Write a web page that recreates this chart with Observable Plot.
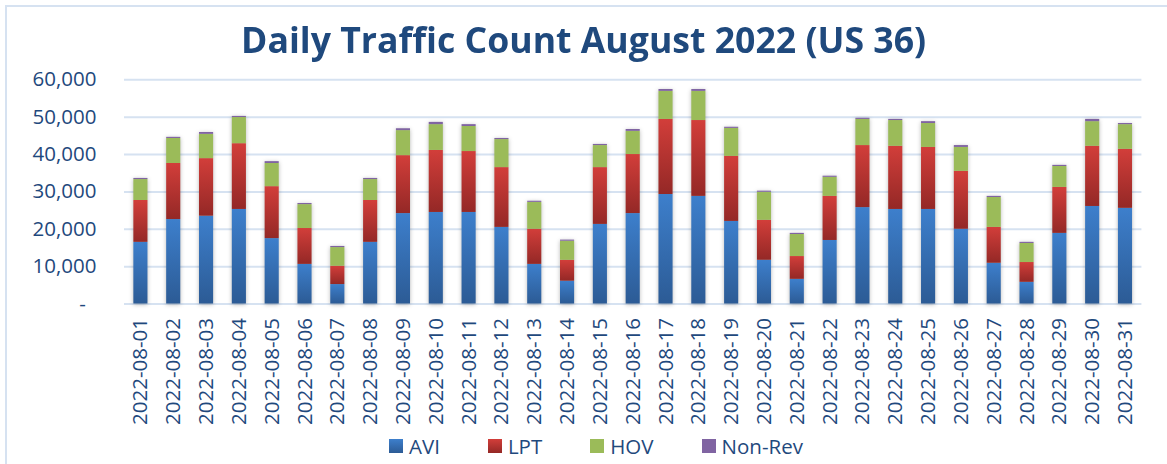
<!DOCTYPE html>
<html>
<head>
<meta charset="utf-8">
<script src="https://cdn.jsdelivr.net/npm/d3@7"></script>
<script src="https://cdn.jsdelivr.net/npm/@observablehq/plot@0.6"></script>
<style>
  html, body { margin: 0; padding: 0; background: #fff; }
  #frame { position: relative; width: 1167px; height: 464px; overflow: hidden; background: #fff;
           font-family: "Open Sans", sans-serif; color: #1F497D; }
  #border { position: absolute; left: 5px; top: 5px; width: 1200px; height: 500px;
            border-top: 2px solid #D6E2F1; border-left: 2px solid #D6E2F1; box-sizing: border-box; }
  #title { position: absolute; left: 0; width: 1167px; top: 22px; text-align: center;
           font-weight: 700; font-size: 35px; line-height: 1; white-space: nowrap; }
  #title span { display: inline-block; transform-origin: center; }
  #chart { position: absolute; left: 0; top: 0; }
  #legend { position: absolute; top: 436px; left: 389px; display: flex; align-items: center;
            gap: 48px; font-size: 20.5px; line-height: 1; white-space: nowrap; }
  #legend .item { display: flex; align-items: center; gap: 6px; }
  #legend .sw { width: 14px; height: 14px; display: inline-block; }
  #chart g[aria-label="bar"] { filter: drop-shadow(0px 1px 2px rgba(0,0,0,0.28)); }
</style>
</head>
<body>
<svg width="0" height="0" style="position:absolute">
  <defs>
    <linearGradient id="gAVI" x1="0" y1="0" x2="0" y2="1">
      <stop offset="0" stop-color="#3D7FCC"/>
      <stop offset="1" stop-color="#2C5B95"/>
    </linearGradient>
    <linearGradient id="gLPT" x1="0" y1="0" x2="0" y2="1">
      <stop offset="0" stop-color="#D23E3A"/>
      <stop offset="1" stop-color="#942826"/>
    </linearGradient>
  </defs>
</svg>
<div id="frame">
  <div id="border"></div>
  <div id="title"><span>Daily Traffic Count August 2022 (US 36)</span></div>
  <div id="chart"></div>
  <div id="legend"></div>
</div>
<script>
const dates = ["2022-08-01","2022-08-02","2022-08-03","2022-08-04","2022-08-05","2022-08-06","2022-08-07","2022-08-08","2022-08-09","2022-08-10","2022-08-11","2022-08-12","2022-08-13","2022-08-14","2022-08-15","2022-08-16","2022-08-17","2022-08-18","2022-08-19","2022-08-20","2022-08-21","2022-08-22","2022-08-23","2022-08-24","2022-08-25","2022-08-26","2022-08-27","2022-08-28","2022-08-29","2022-08-30","2022-08-31"];
const AVI    = [16500,22600,23500,25300,17500,10600,5200,16500,24200,24500,24500,20500,10600,6100,21300,24200,29300,28800,22100,11700,6600,17000,25800,25300,25300,20000,10900,5800,18900,26100,25600];
const LPT    = [11200,15000,15400,17600,13900,9600,4900,11200,15500,16600,16300,16000,9400,5600,15200,15800,20100,20300,17400,10700,6100,11800,16600,16900,16600,15500,9600,5300,12300,16100,15800];
const HOV    = [5600,6700,6500,7000,6200,6400,5000,5600,6700,6900,6700,7500,7200,5100,5900,6200,7500,7800,7500,7500,5900,5100,7000,6900,6400,6400,8000,5100,5600,6600,6600];
const NonRev = [300,300,500,300,500,300,300,300,500,600,500,300,300,300,300,500,500,500,300,300,300,300,300,300,500,500,300,300,300,600,300];
const seriesNames = ["AVI","LPT","HOV","Non-Rev"];
const seriesFills = ["url(#gAVI)","url(#gLPT)","#9BBB59","#8064A2"];
const legendSwatch = ["linear-gradient(#3D7FCC,#2C5B95)","linear-gradient(#D23E3A,#942826)","#9BBB59","#8064A2"];
const yTicks = [0,10000,20000,30000,40000,50000,60000];

const seriesValues = [AVI, LPT, HOV, NonRev];
const rows = dates.flatMap((d, i) => seriesNames.map((s, k) => ({date: d, series: s, value: seriesValues[k][i]})));

const fmt = d3.format(",");
const chart = Plot.plot({
  width: 1167,
  height: 464,
  marginTop: 79.3,
  marginBottom: 160.5,
  marginLeft: 124,
  marginRight: 25.6,
  style: {fontFamily: "'Open Sans', sans-serif", fontSize: "20.5px", color: "#1F497D", background: "transparent", overflow: "visible"},
  x: {type: "band", domain: dates, paddingInner: 0.57, paddingOuter: 0.285, round: false, label: null},
  y: {domain: [0, 60000], label: null},
  color: {domain: seriesNames, range: seriesFills},
  marks: [
    Plot.gridY(yTicks, {stroke: "#D6E2F1", strokeOpacity: 1, strokeWidth: 2}),
    Plot.barY(rows, {x: "date", y: "value", fill: "series"}),
    Plot.axisY({ticks: yTicks, tickSize: 0, tickPadding: 28, fontSize: 20.5,
                tickFormat: d => d === 0 ? "-\u00a0\u00a0" : fmt(d), label: null}),
    Plot.axisX({tickRotate: -90, tickSize: 0, tickPadding: 14, fontSize: 20.5, label: null})
  ]
});
document.getElementById("chart").appendChild(chart);

// legend
const legend = document.getElementById("legend");
seriesNames.forEach((s, k) => {
  const item = document.createElement("div");
  item.className = "item";
  const sw = document.createElement("span");
  sw.className = "sw";
  sw.style.background = legendSwatch[k];
  const t = document.createElement("span");
  t.textContent = s;
  item.appendChild(sw); item.appendChild(t);
  legend.appendChild(item);
});

// condense title to the reference width (Calibri-like narrow face)
const span = document.querySelector("#title span");
const w = span.getBoundingClientRect().width;
span.style.transform = `scaleX(${685 / w})`;
</script>
</body>
</html>
